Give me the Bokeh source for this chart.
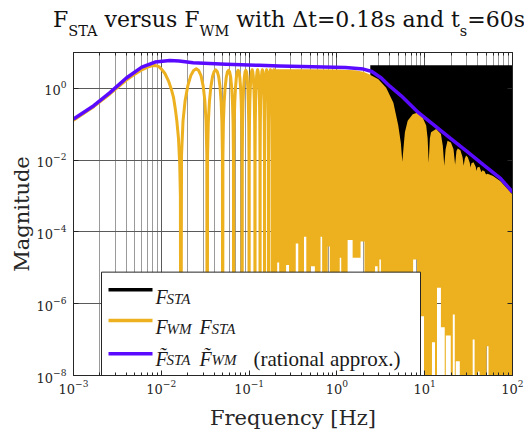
from bokeh.plotting import figure
from bokeh.layouts import column
from bokeh.models import Range1d, FixedTicker, LogAxis, Label, CustomJSTickFormatter, Div
from bokeh.embed import file_html
from bokeh.resources import INLINE

# ---------------- data ----------------
x_major_ticks = [1e-3, 1e-2, 1e-1, 1e0, 1e1, 1e2]
x_minor_mantissas = [2, 3, 4, 5, 6, 7, 8, 9]
y_major_ticks = [1e-8, 1e-6, 1e-4, 1e-2, 1e0]

# rational approximation  F~_STA F~_WM  (purple)
approx_freq = [0.001, 0.0017, 0.0026, 0.004, 0.006, 0.0085, 0.0125, 0.016, 0.023, 0.055,
               0.13, 0.22, 1.25, 2.0, 2.5, 3.2, 4.0, 5.4, 8.5, 13, 20, 31, 47.5, 73, 100]
approx_mag = [0.14, 0.33, 0.76, 1.95, 3.9, 5.4, 6.0, 5.8, 5.2, 4.7,
              4.4, 4.2, 3.8, 3.45, 2.95, 1.95, 1.15, 0.62, 0.21, 0.092, 0.039, 0.0167, 0.0072, 0.0031, 0.0013]

# F_WM F_STA : first (rising) lobe
lobe0_freq = [0.001, 0.0017, 0.0026, 0.004, 0.005, 0.006, 0.007, 0.0078, 0.0085, 0.0093,
              0.0101, 0.011, 0.0121, 0.013, 0.0138, 0.0145, 0.0150, 0.0157, 0.0162, 0.0165]
lobe0_mag = [0.13, 0.31, 0.7, 1.7, 2.5, 3.3, 3.9, 4.25, 4.35, 4.1,
             3.4, 2.6, 1.6, 0.95, 0.55, 0.25, 0.13, 0.04, 0.008, 0.001]
# following lobes: zeros (Hz), lobe heights, and the lobe profile
lobe_dip_freq = [0.01667, 0.03333, 0.05, 0.06667, 0.08333, 0.1, 0.11667, 0.13333, 0.15, 0.16667, 0.18333, 0.2]
lobe_peak_mag = [3.5, 3.3, 3.2, 3.2, 3.2, 3.3, 3.3, 3.3, 3.3, 3.3, 3.3]
lobe_profile_pos = [0.0, 0.02, 0.06, 0.12, 0.2, 0.3, 0.4, 0.5, 0.6, 0.7, 0.8, 0.88, 0.94, 0.98, 1.0]
lobe_profile_rel = [1e-12, 0.004, 0.035, 0.13, 0.33, 0.65, 0.9, 1.0, 0.9, 0.65, 0.33, 0.13, 0.035, 0.004, 1e-12]

# dense part of F_WM F_STA: upper envelope
dense_top_freq = [0.185, 0.5, 1.0, 1.6, 2.0, 2.3, 2.97, 3.64, 4.4, 5.0, 5.35, 5.56, 5.8, 5.95, 6.4, 7.3,
                  8.2, 9.3, 10.4, 10.8, 11.1, 11.45, 11.8, 13.5, 15.3, 16.1, 16.7, 17.3, 18.2, 19.9,
                  21.3, 22.2, 23.0, 23.8, 25.5, 27.0, 27.8, 28.6, 29.6, 31.0, 32.6, 33.3, 34.1, 36.0,
                  38.2, 38.9, 39.7, 42.0, 44.4, 45.5, 48.0, 50.0, 52.0, 60.0, 73.0, 100.0]
dense_top_mag = [3.4, 3.4, 3.35, 3.2, 2.9, 2.5, 1.8, 1.05, 0.40, 0.092, 0.03, 0.009, 0.03, 0.06, 0.126, 0.19,
                 0.21, 0.17, 0.092, 0.04, 0.0085, 0.04, 0.06, 0.074, 0.054, 0.025, 0.007, 0.02, 0.035, 0.031,
                 0.02, 0.0075, 0.018, 0.021, 0.019, 0.012, 0.007, 0.011, 0.0135, 0.012, 0.0085, 0.0062, 0.0082, 0.0088,
                 0.0065, 0.005, 0.0062, 0.0066, 0.0046, 0.0052, 0.0049, 0.004, 0.0042, 0.0036, 0.0026, 0.0011]
# white gaps reaching up from the bottom of the dense part
gap_freq_lo = [0.209, 0.264, 0.340, 0.422, 0.502, 0.651, 0.787, 1.077, 1.325, 1.51, 1.86, 2.72, 3.05,
               7.38, 9.08, 12.1, 13.8, 15.3, 17.4, 20.9, 22.6, 35.2, 40.1, 50.6]
gap_freq_hi = [0.220, 0.285, 0.363, 0.448, 0.561, 0.679, 0.830, 1.12, 1.51, 1.86, 2.06, 2.91, 3.17,
               8.18, 9.82, 13.1, 15.3, 16.9, 19.8, 22.0, 25.1, 37.0, 42.2, 53.3]
gap_top_mag = [1.4e-5, 1.2e-5, 4.8e-5, 7.4e-5, 1.1e-5, 7.4e-5, 3.9e-5, 1.9e-5, 6.0e-5, 1.9e-5, 5.4e-5, 1.1e-5, 1.7e-5,
               1.7e-5, 4.5e-7, 8.4e-8, 2.8e-6, 2.2e-7, 1.3e-7, 5.0e-7, 2.5e-8, 1.0e-7, 1.3e-8, 6.5e-8]

# F_STA (black): band visible above the product at high frequency
fsta_band_freq = [2.4, 100.0]
fsta_band_mag = [4.4, 1e-4]

# title pieces (main text, subscript)
title_parts = [("F", "STA"), (" versus F", "WM"), (" with \u0394t=0.18s and t", "s"), ("=60s", "")]

FLOOR = 1e-12

# ---------------- colours ----------------
C_YEL = "#EDB120"
C_PUR = "#5a0bff"
C_AX = "#262626"

TITLE_H = 44

# ---------------- title (HTML, with subscripts) ----------------
sub_style = "font-size:14.5px;vertical-align:-9px;"
inner = "".join(f'{m}<span style="{sub_style}">{s}</span>' if s else m for m, s in title_parts)
title_html = ('<div style="position:relative;width:524px;height:%dpx;">'
              '<span style="position:absolute;left:53px;top:9px;font-family:\'DejaVu Serif\';'
              'font-size:22px;line-height:22px;color:#111111;white-space:nowrap;">%s</span></div>'
              % (TITLE_H, inner))
title_div = Div(text=title_html, width=524, height=TITLE_H, margin=(0, 0, 0, 0))

# ---------------- figure ----------------
p = figure(width=524, height=432 - TITLE_H, x_axis_type="log", y_axis_type="log",
           x_range=Range1d(1e-3, 1e2), y_range=Range1d(1e-8, 1e1),
           output_backend="svg", toolbar_location=None,
           min_border_left=73, min_border_right=12, min_border_top=8, min_border_bottom=55)
p.outline_line_color = C_AX

x_minor = [d * m for d in x_major_ticks[:-1] for m in x_minor_mantissas]
xt = FixedTicker(ticks=x_major_ticks, minor_ticks=x_minor)
yt = FixedTicker(ticks=y_major_ticks, minor_ticks=[])
p.xaxis.ticker = xt
p.yaxis.ticker = yt
blank = CustomJSTickFormatter(code="return ''")
top_ax = LogAxis(ticker=xt, formatter=blank)
right_ax = LogAxis(ticker=yt, formatter=blank)
p.add_layout(top_ax, "above")
p.add_layout(right_ax, "right")

for ax in [p.below[0], p.left[0], top_ax, right_ax]:
    ax.axis_line_color = C_AX
    ax.major_tick_line_color = C_AX
    ax.minor_tick_line_color = C_AX
    ax.major_tick_in = 5
    ax.major_tick_out = 0
    ax.minor_tick_in = 3
    ax.minor_tick_out = 0
    ax.major_label_text_font = "DejaVu Serif"
    ax.major_label_text_font_size = "13px"
    ax.major_label_text_color = C_AX
for ax in [top_ax, right_ax]:
    ax.major_label_standoff = 0

p.below[0].axis_label = "Frequency [Hz]"
p.left[0].axis_label = "Magnitude"
for ax in [p.below[0], p.left[0]]:
    ax.axis_label_text_font = "DejaVu Serif"
    ax.axis_label_text_font_size = "21px"
    ax.axis_label_text_font_style = "normal"
    ax.axis_label_text_color = C_AX
p.below[0].major_label_standoff = 4
p.below[0].axis_label_standoff = 9
p.left[0].major_label_standoff = 7
p.left[0].axis_label_standoff = 0

p.xgrid.grid_line_color = "#5a5a5a"
p.xgrid.minor_grid_line_color = "#9a9a9a"
p.ygrid.grid_line_color = "#5a5a5a"

# F_STA black band
p.patch(x=[fsta_band_freq[0], fsta_band_freq[1], fsta_band_freq[1], fsta_band_freq[0]],
        y=[fsta_band_mag[0], fsta_band_mag[0], fsta_band_mag[1], fsta_band_mag[1]],
        color="black", line_width=0)

# dense product region
poly_x = list(dense_top_freq)
poly_y = list(dense_top_mag)
poly_x.append(dense_top_freq[-1]); poly_y.append(FLOOR)
for lo, hi, top in sorted(zip(gap_freq_lo, gap_freq_hi, gap_top_mag), reverse=True):
    poly_x += [hi, hi, lo, lo]
    poly_y += [FLOOR, top, top, FLOOR]
poly_x.append(dense_top_freq[0]); poly_y.append(FLOOR)
p.patch(x=poly_x, y=poly_y, color=C_YEL, line_width=0)

# lobes line
lx = list(lobe0_freq)
ly = list(lobe0_mag)
for k, peak in enumerate(lobe_peak_mag):
    fa, fb = lobe_dip_freq[k], lobe_dip_freq[k + 1]
    for pos, rel in zip(lobe_profile_pos, lobe_profile_rel):
        lx.append(fa + pos * (fb - fa))
        ly.append(max(peak * rel, FLOOR))
p.line(lx, ly, line_color=C_YEL, line_width=3, line_join="round")

# rational approx
p.line(approx_freq, approx_mag, line_color=C_PUR, line_width=3.5, line_join="round")

# ---------------- legend (drawn by hand) ----------------
FL, FR, FT, FB = 73.0, 512.0, 52.0, 377.0   # intended frame edges in page pixels


def dx(px):
    return 10 ** (-3 + 5 * (px - FL) / (FR - FL))


def dy(py):
    return 10 ** (1 - 9 * (py - FT) / (FB - FT))


p.quad(left=[dx(101)], right=[dx(420)], top=[dy(273)], bottom=[dy(378)],
       fill_color="white", line_color=C_AX, line_width=1)
for py, col in [(290.7, "black"), (321.7, C_YEL), (355.0, C_PUR)]:
    p.line([dx(108), dx(152)], [dy(py), dy(py)], line_color=col, line_width=3.5)


def lab(text, px, py, size, font="Liberation Serif", style="italic", color="#1a1a1a"):
    p.add_layout(Label(x=px - FL, y=FB - py, x_units="screen", y_units="screen", text=text,
                       text_font=font, text_font_size=size, text_font_style=style,
                       text_color=color, text_baseline="alphabetic", text_align="left"))


lab("F", 155, 298.3, "20px")
lab("STA", 166, 300.0, "15px")
lab("F", 155, 328.5, "20px")
lab("WM", 166, 330.2, "15px")
lab("F", 199, 328.5, "20px")
lab("STA", 211, 330.2, "15px")
lab("F\u0303", 155, 360.0, "20px")
lab("STA", 166, 361.7, "15px")
lab("F\u0303", 199, 360.0, "20px")
lab("WM", 211, 361.7, "15px")
lab("(rational approx.)", 253, 360.0, "21px", style="normal")

layout = column(title_div, p, spacing=0)
open("out.html", "w").write(file_html(layout, INLINE))
